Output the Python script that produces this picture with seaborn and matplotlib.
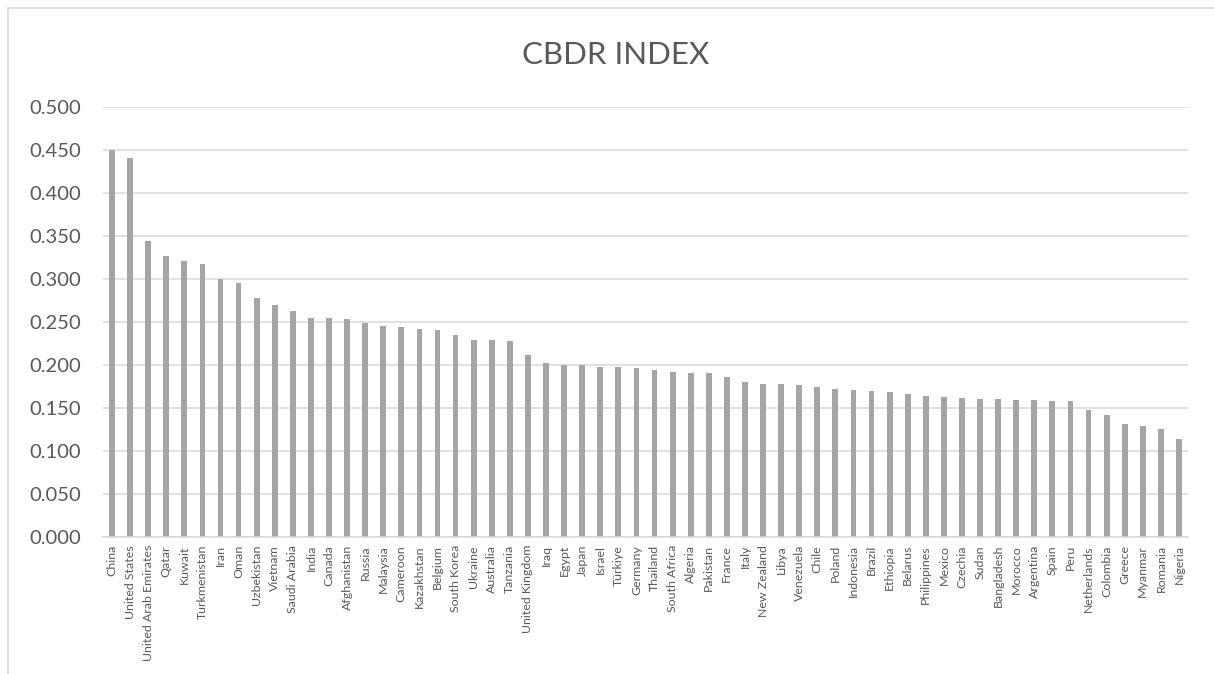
import matplotlib
matplotlib.use('Agg')
import matplotlib.pyplot as plt
import seaborn as sns
from matplotlib.patches import Rectangle

# Paesi e valori dell'indice CBDR
paesi = ['China', 'United States', 'United Arab Emirates', 'Qatar', 'Kuwait',
         'Turkmenistan', 'Iran', 'Oman', 'Uzbekistan', 'Vietnam',
         'Saudi Arabia', 'India', 'Canada', 'Afghanistan', 'Russia',
         'Malaysia', 'Cameroon', 'Kazakhstan', 'Belgium', 'South Korea',
         'Ukraine', 'Australia', 'Tanzania', 'United Kingdom', 'Iraq',
         'Egypt', 'Japan', 'Israel', 'Türkiye', 'Germany',
         'Thailand', 'South Africa', 'Algeria', 'Pakistan', 'France',
         'Italy', 'New Zealand', 'Libya', 'Venezuela', 'Chile',
         'Poland', 'Indonesia', 'Brazil', 'Ethiopia', 'Belarus',
         'Philippines', 'Mexico', 'Czechia', 'Sudan', 'Bangladesh',
         'Morocco', 'Argentina', 'Spain', 'Peru', 'Netherlands',
         'Colombia', 'Greece', 'Myanmar', 'Romania', 'Nigeria']

valori = [0.450, 0.440, 0.344, 0.326, 0.320,
          0.317, 0.300, 0.295, 0.277, 0.269,
          0.262, 0.254, 0.254, 0.253, 0.248,
          0.245, 0.244, 0.241, 0.240, 0.235,
          0.229, 0.229, 0.228, 0.211, 0.202,
          0.200, 0.200, 0.197, 0.197, 0.196,
          0.194, 0.191, 0.190, 0.190, 0.186,
          0.180, 0.177, 0.177, 0.176, 0.174,
          0.172, 0.171, 0.170, 0.168, 0.166,
          0.164, 0.162, 0.161, 0.160, 0.160,
          0.159, 0.159, 0.158, 0.158, 0.147,
          0.142, 0.131, 0.129, 0.125, 0.114]

yticks = [0.0, 0.05, 0.10, 0.15, 0.20, 0.25, 0.30, 0.35, 0.40, 0.45, 0.50]

sns.set_style('white')
plt.rcParams['font.family'] = ['Lato', 'DejaVu Sans']
testo = '#595959'
griglia = '#D9D9D9'

fig = plt.figure(figsize=(12.14, 6.74), dpi=100)
ax = fig.add_axes([0.0848, 0.2037, 0.8938, 0.638])

sns.barplot(x=paesi, y=valori, color='#A5A5A5', width=0.32,
            saturation=1, linewidth=0, ax=ax)

ax.set_xlim(-0.5, len(paesi) - 0.5)
ax.set_ylim(0, 0.5)
ax.set_yticks(yticks)
ax.set_yticklabels([f'{v:.3f}' for v in yticks])
ax.yaxis.grid(True, color=griglia, linewidth=1.1)
ax.set_axisbelow(True)
for s in ['top', 'right', 'left']:
    ax.spines[s].set_visible(False)
ax.spines['bottom'].set_color(griglia)
ax.spines['bottom'].set_linewidth(1.1)

ax.tick_params(axis='y', length=0, pad=16, labelsize=14.5, labelcolor=testo)
ax.tick_params(axis='x', length=0, pad=6, labelsize=8.9, labelcolor=testo,
               rotation=90)
ax.set_xlabel('')
ax.set_ylabel('')

fig.text(0.507, 0.918, 'CBDR INDEX', ha='center', va='center',
         fontsize=22.5, color=testo)

# cornice del grafico (lati destro e inferiore tagliati)
fig.patches.append(Rectangle((8 / 1214, -0.05), 1.1, 1 - 8 / 674 + 0.05,
                             transform=fig.transFigure, fill=False,
                             edgecolor=griglia, linewidth=1.2))

fig.savefig('out.png', dpi=100)
